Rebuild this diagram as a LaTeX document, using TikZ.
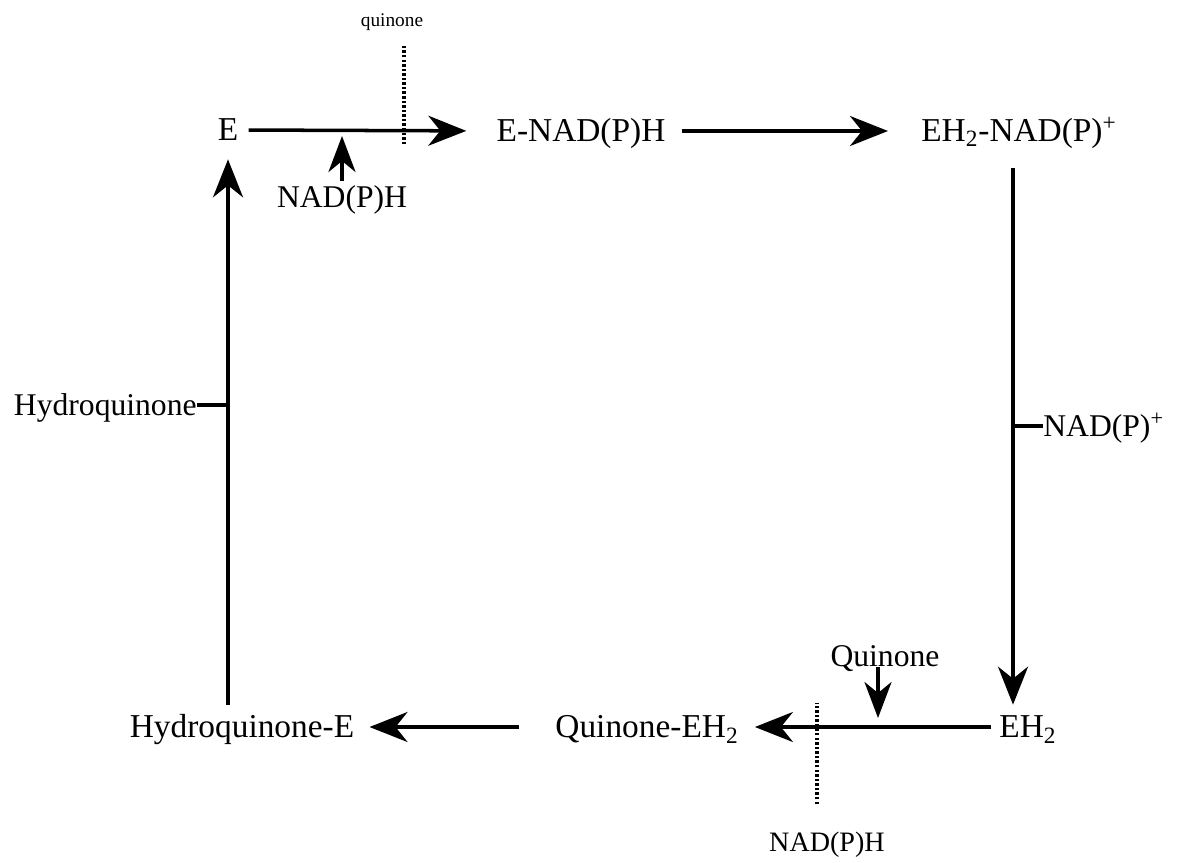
\documentclass[tikz,border=0pt]{standalone}
\usepackage{fontspec}
\setmainfont{Liberation Serif}
\usetikzlibrary{arrows.meta,positioning,calc}

\tikzset{
  species/.style={font=\fontsize{19}{22}\selectfont, inner sep=0pt, text height=12.5pt, text depth=0pt},
  side/.style={font=\fontsize{18}{21}\selectfont, inner sep=0pt, text height=12pt, text depth=0pt},
  rxn/.style={line width=2pt, -{Stealth[length=0.76cm, width=0.6cm, inset=0.24cm]}},
  feed/.style={line width=2pt, -{Stealth[length=0.72cm, width=0.54cm, inset=0.22cm]}},
  tick/.style={line width=2pt},
  cut/.style={line width=2.2pt, dash pattern=on 1.4pt off 1.2pt}
}

\begin{document}
\begin{tikzpicture}[x=0.02cm, y=-0.02cm]
    \useasboundingbox (0,0) rectangle (1182,862);

    % Species of the cycle
    \node[species] (E) at (228,130) {E};
    \node[species] (ENADPH) at (581,131) {E-NAD(P)H};
    \node[species] (EHNADP) at (1019,131) {EH\textsubscript{2}-NAD(P)\textsuperscript{+}};
    \node[species] (EH) at (1028,727) {EH\textsubscript{2}};
    \node[species] (QEH) at (647,727) {Quinone-EH\textsubscript{2}};
    \node[species] (HQE) at (242,727) {Hydroquinone-E};

    % Side substrates and products
    \node[side, anchor=east] (hq) at (197,405) {Hydroquinone};
    \node[side, anchor=west] (nadpp) at (1043,426) {NAD(P)\textsuperscript{+}};
    \node[side] (nadphin) at (342,197) {NAD(P)H};
    \node[side] (quin) at (885,656) {Quinone};
    \node[font=\fontsize{11}{13}\selectfont, inner sep=0pt] (qtop) at (392,22) {quinone};
    \node[font=\fontsize{16}{19}\selectfont, inner sep=0pt, text height=11pt, text depth=0pt] (nadphout) at (827,842) {NAD(P)H};

    % Cycle
    \draw[rxn, shorten <=0.2cm, shorten >=0.6cm] (E.east) -- (ENADPH.west);
    \draw[rxn, shorten <=0.32cm, shorten >=0.66cm] (ENADPH.east) -- (EHNADP.west |- ENADPH.east);
    \draw[rxn, shorten <=0.52cm, shorten >=0.22cm] ($(EHNADP.south)+(-6,0)$) -- ($(EHNADP.south |- EH.north)+(-6,0)$);
    \draw[rxn, shorten <=0.16cm, shorten >=0.32cm] (EH.west) -- (QEH.east);
    \draw[rxn, shorten <=0.72cm, shorten >=0.3cm] (QEH.west) -- (HQE.east);
    \draw[rxn, shorten <=0.22cm, shorten >=0.36cm] (E |- HQE.north) -- (E.south);

    % Branches
    \draw[tick] (hq.east) -- (hq.east -| E);
    \draw[tick] (nadpp.west) -- ($(nadpp.west -| EHNADP)+(-6,0)$);
    \draw[feed, shorten <=0.1cm, shorten >=0.12cm] (nadphin.north) -- (nadphin.north |- E);
    \draw[feed, shorten >=0.18cm] ([xshift=-0.14cm]quin.south) -- ([xshift=-0.14cm]quin.south |- EH);

    % Cut marks
    \draw[cut] ([xshift=0.24cm, yshift=-0.3cm]qtop.south) -- ++(0,100);
    \draw[cut] ([xshift=-0.2cm, yshift=0.56cm]nadphout.north) -- ++(0,-101);
\end{tikzpicture}
\end{document}
